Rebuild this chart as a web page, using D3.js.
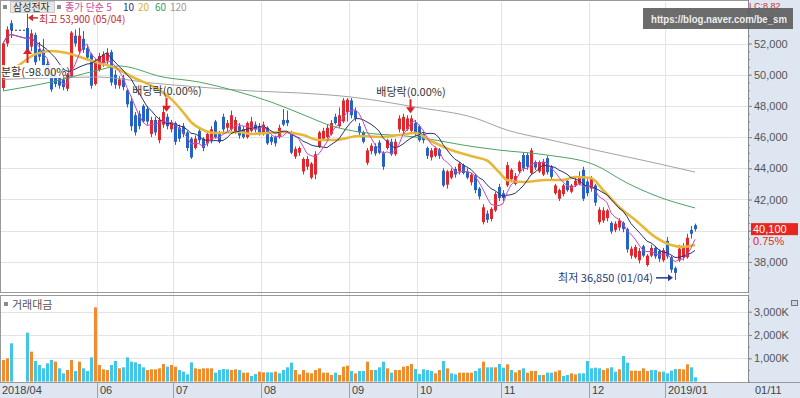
<!DOCTYPE html>
<html>
<head>
<meta charset="utf-8">
<script src="https://cdn.jsdelivr.net/npm/d3@7"></script>
<style>
html, body { margin: 0; padding: 0; background: #fff; }
svg { display: block; font-family: "Noto Sans CJK KR", "Liberation Sans", sans-serif; }
.axis text { font-family: "Liberation Sans", Arial, sans-serif; font-size: 11px; fill: #555; }
</style>
</head>
<body>
<div id="chart"></div>
<script>
// daily candles, 2018/04/25 .. 2019/01/11, [open, high, low, close]; null = trading halted for the split
var ohlc = [
  [49150,52100,49000,52000],[52000,53100,51800,52900],[53300,53500,52350,52850],null,null,null,
  // May
  [53000,53900,51300,51500],[51800,52900,51500,52650],[52550,52700,50600,50800],[51650,52100,50900,51150],
  [51600,52300,50400,50600],[50700,51000,49900,50100],[50150,50300,48900,49050],[49900,50200,49200,49400],
  [49800,50000,49100,49300],[49700,49900,49000,49200],[49100,50100,48950,50000],[49900,52800,49800,52700],
  [52500,52900,51800,52000],[51500,53000,51300,52500],[52300,52800,51400,51600],[51700,51900,50900,51100],
  [51300,51400,49100,49300],[49400,51000,49300,50900],
  // June
  [50300,51400,50200,51200],[50700,51500,50500,51300],[50900,51700,50600,51400],[51450,51600,49300,49500],
  [50000,50300,49100,49350],[49300,49900,49100,49700],[49800,50000,49000,49200],[49000,49100,47900,48100],
  [48300,48600,46400,46700],[47400,47600,46100,46300],[47500,47700,46500,46700],[48000,48100,46900,47000],
  [47800,48000,46800,47000],[46200,47300,46000,47100],[47100,47300,46100,46300],[45800,47300,45600,47100],
  [46800,48000,46600,47600],[47300,47500,46500,46700],[46500,47100,46300,46950],
  // July
  [46900,47000,45500,45700],[46600,46800,45700,45900],[46700,46900,46000,46200],[46300,46400,45100,45300],
  [45900,46000,44600,44700],[45300,46100,45200,45900],[46400,46600,45600,45800],[45900,46000,45100,45300],
  [45600,46400,45400,46200],[45800,46700,45600,46500],[47000,47100,45900,46000],[46200,46400,45600,45700],
  [47300,47500,46300,46500],[46600,47100,46400,46900],[46500,47700,46400,47400],[46300,47300,46200,47100],
  [46700,46900,45900,46100],[46500,46700,45900,46000],[46000,47000,45900,46900],[46400,47300,46300,47000],
  [46800,47000,46300,46500],[46700,46900,46100,46300],
  // August
  [46200,47000,46100,46800],[46600,46700,45500,45600],[46000,46100,45500,45700],[46000,46100,45400,45600],
  [46000,46800,45900,46600],[47100,47800,46700,46800],[47100,47700,46700,46900],[46300,46400,44900,45000],
  [44750,45400,44600,45250],[45000,45400,44800,45300],[43800,44700,43600,44600],[44100,44800,43900,44600],
  [43400,44400,43300,44300],[43600,45100,43300,44900],[45400,46400,45300,46300],[45900,46600,45800,46400],
  [46000,46800,45900,46600],[46200,47100,46100,46900],[47300,47500,46800,46900],[46700,47900,46600,47400],
  [47000,48500,46900,48350],[47600,48500,47000,48400],
  // September
  [48350,48500,47200,47400],[47700,47900,47000,47200],[46700,46900,46100,46300],[46300,46400,45600,45700],
  [44350,45300,44200,45150],[45100,45600,44900,45450],[45400,45600,44800,44950],[45650,45800,44900,45000],
  [45000,45100,43900,44100],[45300,45900,45200,45800],[45700,45900,44800,44900],[44900,45900,44800,45700],
  [46500,47400,46300,47200],[46400,47500,46200,47300],[46500,47400,46400,47200],[46400,47400,46300,47200],
  [46900,47100,46100,46300],
  // October
  [46700,46800,45700,45800],[46200,46300,45600,45800],[45300,45400,44600,44800],[44700,45300,44500,45150],
  [44800,45400,44700,45300],[45200,45300,44600,44800],[43850,44000,42800,42900],[42950,43900,42700,43800],
  [43400,44000,43300,43850],[43950,44100,43400,43600],[43800,44400,43600,44300],[44200,44300,43600,43700],
  [43800,44000,43300,43400],[43100,43700,42900,43600],[43500,43600,42400,42600],[42700,42800,42000,42200],
  [40550,41700,40400,41500],[41100,41300,40500,40700],[40750,41500,40600,41400],[41300,42500,41200,42350],
  [42800,43000,41900,42100],
  // November
  [42400,42600,41900,42100],[42900,44400,42800,44200],[43300,44000,43100,43900],[43000,43700,42900,43500],
  [43800,44500,43700,44400],[44850,45000,43800,44000],[44850,45000,43900,44100],[43700,45300,43600,45150],
  [44400,44500,43900,44050],[43800,44500,43700,44400],[43600,44600,43500,44400],[44650,44800,43600,43750],
  [44100,44200,43300,43450],[42400,43000,42300,42900],[42050,42700,41900,42600],[42350,43000,42200,42900],
  [43200,43300,42500,42600],[42500,43000,42400,42900],[42900,43400,42800,43200],[43000,43800,42900,43500],
  [43900,44100,41900,42050],[43150,43300,42200,42400],
  // December
  [42700,43500,42500,43300],[42900,43000,41600,41800],[40550,41500,40400,41350],[40650,41500,40500,41300],
  [40800,41400,40600,41300],[40500,40600,39800,39950],[40050,40600,39900,40450],[40200,40800,40000,40650],
  [40500,40600,39900,40100],[40100,40200,38600,38800],[38400,39000,38200,38850],[38300,39100,38200,38950],
  [38100,38900,37900,38700],[39000,39100,38300,38400],[37800,38500,37700,38400],[38400,39100,38300,38900],
  [38900,39000,38200,38350],[38700,38800,38000,38200],[38100,38900,38000,38750],
  // January 2019
  [39350,39600,38200,38350],[38300,38400,37300,37500],[37600,37700,36850,37300],[38100,39100,38000,38850],
  [38300,39200,38100,38950],[38300,39800,38200,39550],[40050,40300,39500,39800],[40350,40450,39950,40100]
];

// trading value (K)
var volumes = [
  927,1000,1642,null,null,null,2100,1285,884,712,570,784,927,856,570,355,498,927,455,856,570,455,1040,3186,
  712,527,498,712,884,570,613,1042,856,827,756,613,498,527,527,570,756,641,712,
  641,498,427,312,827,570,541,570,570,570,384,498,541,527,498,527,498,384,384,241,327,427,
  398,398,398,427,355,498,613,813,498,312,498,384,355,498,570,384,384,284,384,284,641,684,
  455,355,455,455,856,498,498,613,856,570,384,498,498,641,669,755,541,
  327,527,498,455,355,498,884,570,355,312,384,384,384,384,455,570,856,613,613,613,755,
  598,741,498,398,498,570,384,455,455,284,284,384,384,427,484,241,284,355,312,355,355,884,
  570,598,570,498,570,613,427,527,1098,813,470,470,455,570,455,498,498,427,427,
  355,470,541,541,527,741,613,183
];

// 1 = orange bar, 0 = cyan bar
var volumeUp = [
  1,1,0,null,null,null,0,1,0,0,0,0,0,1,0,0,1,1,0,1,0,0,0,1,
  1,1,1,0,0,1,0,0,0,0,0,0,1,1,1,1,1,0,1,
  1,0,0,0,0,1,1,1,1,1,0,0,0,0,1,1,0,1,1,0,0,1,
  1,0,0,1,0,0,0,0,1,1,1,1,1,1,1,1,1,1,0,1,1,1,
  0,1,0,0,1,1,0,0,0,1,0,1,1,1,1,1,0,
  0,0,0,0,1,1,0,1,0,0,1,1,1,1,0,0,1,0,0,1,0,
  0,1,0,1,1,0,1,1,1,0,1,0,0,1,1,0,0,1,1,0,0,0,
  0,0,0,1,1,0,0,1,0,0,1,1,1,1,1,0,0,1,0,
  0,0,0,1,1,1,0,0
];

// moving averages, [day index, value]
var ma20Points = [[0,49980],[4,50620],[8,51300],[12,51520],[16,51390],[20,51070],[24,50750],[28,50450],
  [32,49900],[39,49020],[42,48450],[45,47610],[47,46970],[50,46460],[53,46260],[59,46330],[62,46200],
  [66,46260],[70,46330],[75,46130],[79,45810],[83,45810],[89,46070],[95,46010],[99,46130],[103,46260],
  [107,45750],[112,45170],[118,44720],[121,44500],[124,43760],[126,43250],[130,43120],[136,43250],
  [140,43250],[143,43440],[147,43380],[150,42610],[154,41520],[158,40700],[163,39600],[167,39080],
  [170,38960],[173,39080]];
var ma60Points = [[0,48960],[12,49530],[24,50300],[29,50560],[40,49850],[49,49530],[59,48890],[67,48250],
  [74,47545],[83,46650],[89,46330],[103,46010],[118,45370],[124,45170],[136,44850],[148,44210],
  [156,43060],[164,42160],[173,41460]];
var ma120Points = [[0,49700],[12,49800],[24,49850],[37,49470],[49,49210],[62,48960],[74,48830],[87,48570],
  [103,47930],[118,47220],[126,46450],[137,45810],[148,45170],[162,44400],[173,43760]];

var monthTicks = [[0,"2018/04"],[24,"06"],[43,"07"],[65,"08"],[87,"09"],[104,"10"],[125,"11"],[147,"12"],[166,"2019/01"]];
var priceTicks = [38000,40000,42000,44000,46000,48000,50000,52000];
var volumeTicks = [1000,2000,3000];

var W = 800, H = 398;
var upColor = "#e2262c", downColor = "#2462c8";

var svg = d3.select("#chart").append("svg").attr("width", W).attr("height", H);

var x = d3.scaleLinear().domain([0, 173]).range([3, 695]);
var y = d3.scaleLinear().domain([38000, 52000]).range([261.9, 43.5]);
var yv = d3.scaleLinear().domain([0, 3000]).range([381.6, 311.7]);

// backgrounds
svg.append("rect").attr("x", 748).attr("y", 0).attr("width", 52).attr("height", H).attr("fill", "#dde6f1");
svg.append("rect").attr("x", 0).attr("y", 382).attr("width", W).attr("height", 16).attr("fill", "#dde6f1");

svg.append("clipPath").attr("id", "pclip").append("rect")
  .attr("x", 1).attr("y", 2).attr("width", 747).attr("height", 290);
svg.append("clipPath").attr("id", "vclip").append("rect")
  .attr("x", 1).attr("y", 296).attr("width", 747).attr("height", 86);

// grid
var grid = svg.append("g").attr("stroke", "#e3e3e3").attr("shape-rendering", "crispEdges");
grid.selectAll(".hp").data(priceTicks).enter().append("line")
  .attr("x1", 1).attr("x2", 748).attr("y1", function(d) { return Math.round(y(d)) + 0.5; })
  .attr("y2", function(d) { return Math.round(y(d)) + 0.5; });
grid.selectAll(".hv").data(volumeTicks).enter().append("line")
  .attr("x1", 1).attr("x2", 748).attr("y1", function(d) { return Math.round(yv(d)) + 0.5; })
  .attr("y2", function(d) { return Math.round(yv(d)) + 0.5; });
grid.selectAll(".vm").data(monthTicks.slice(1)).enter().append("line")
  .attr("x1", function(d) { return x(d[0]) - 1.5; }).attr("x2", function(d) { return x(d[0]) - 1.5; })
  .attr("y1", 2).attr("y2", 382);

// panel frames
var frame = svg.append("g").attr("fill", "none").attr("stroke", "#999").attr("shape-rendering", "crispEdges");
frame.append("rect").attr("x", 0.5).attr("y", 0.5).attr("width", 747.5).attr("height", 292);
frame.append("rect").attr("x", 0.5).attr("y", 295.5).attr("width", 747.5).attr("height", 86.5);
frame.append("line").attr("x1", 0).attr("x2", W).attr("y1", 382.5).attr("y2", 382.5);

// candles
var price = svg.append("g").attr("clip-path", "url(#pclip)");
var days = ohlc.map(function(d, i) { return d ? { i: i, o: d[0], h: d[1], l: d[2], c: d[3] } : null; })
  .filter(function(d) { return d; });

var cg = price.selectAll(".candle").data(days).enter().append("g").attr("class", "candle");
cg.append("line")
  .attr("x1", function(d) { return x(d.i) + 0.5; }).attr("x2", function(d) { return x(d.i) + 0.5; })
  .attr("y1", function(d) { return y(d.h); }).attr("y2", function(d) { return y(d.l); })
  .attr("stroke", function(d) { return d.c >= d.o ? upColor : downColor; });
cg.append("rect")
  .attr("x", function(d) { return x(d.i) - 1; }).attr("width", 3)
  .attr("y", function(d) { return y(Math.max(d.o, d.c)); })
  .attr("height", function(d) { return Math.max(1, Math.abs(y(d.o) - y(d.c))); })
  .attr("fill", function(d) { return d.c >= d.o ? upColor : downColor; });

// moving averages
function sma(n) {
  var buf = [], out = [];
  days.forEach(function(d) {
    buf.push(d.c);
    if (buf.length > n) buf.shift();
    out.push([d.i, d3.mean(buf)]);
  });
  return out;
}
var lineLin = d3.line().x(function(d) { return x(d[0]); }).y(function(d) { return y(d[1]); });
var lineCurve = d3.line().x(function(d) { return x(d[0]); }).y(function(d) { return y(d[1]); }).curve(d3.curveMonotoneX);

price.append("path").attr("d", lineCurve(ma120Points)).attr("fill", "none").attr("stroke", "#a3a3a3").attr("stroke-width", 1);
price.append("path").attr("d", lineCurve(ma60Points)).attr("fill", "none").attr("stroke", "#4ea464").attr("stroke-width", 1);
price.append("path").attr("d", lineCurve(ma20Points)).attr("fill", "none").attr("stroke", "#e6b83a").attr("stroke-width", 2.6);
price.append("path").attr("d", lineLin(sma(10))).attr("fill", "none").attr("stroke", "#2c3270").attr("stroke-width", 1);
price.append("path").attr("d", lineLin(sma(5))).attr("fill", "none").attr("stroke", "#c24cc0").attr("stroke-width", 1);

// volume bars
var vol = svg.append("g").attr("clip-path", "url(#vclip)");
vol.selectAll("rect").data(volumes.map(function(v, i) { return v === null ? null : { i: i, v: v, up: volumeUp[i] }; })
    .filter(function(d) { return d; }))
  .enter().append("rect")
  .attr("x", function(d) { return x(d.i) - 1; }).attr("width", 3)
  .attr("y", function(d) { return yv(d.v); })
  .attr("height", function(d) { return yv(0) - yv(d.v); })
  .attr("fill", function(d) { return d.up ? "#f08b2e" : "#3fc6e9"; });

// right axes; the 40,000 label sits under the current-price tag, so it is left blank
var last = days[days.length - 1];
var pAxis = svg.append("g").attr("class", "axis").attr("transform", "translate(748,0)")
  .call(d3.axisRight(y).tickValues(priceTicks).tickSize(4).tickPadding(2)
    .tickFormat(function(d) { return Math.abs(d - last.c) < 500 ? "" : d3.format(",")(d); }));
svg.append("g").attr("class", "axis").attr("transform", "translate(748,0)")
  .call(d3.axisRight(y).tickValues(d3.range(37000, 54001, 500)).tickSize(2).tickFormat(""))
  .select(".domain").remove();
var vAxis = svg.append("g").attr("class", "axis").attr("transform", "translate(748,0)")
  .call(d3.axisRight(yv).tickValues(volumeTicks).tickSize(4).tickPadding(2)
    .tickFormat(function(d) { return d3.format(",")(d) + "K"; }));
svg.append("g").attr("class", "axis").attr("transform", "translate(748,0)")
  .call(d3.axisRight(yv).tickValues(d3.range(0, 3701, 500)).tickSize(2).tickFormat(""))
  .select(".domain").remove();
svg.selectAll(".axis .domain").attr("stroke", "#8a8a8a");
svg.selectAll(".axis .tick line").attr("stroke", "#8a8a8a");
pAxis.select(".domain").attr("d", "M0.5,0V293");
vAxis.select(".domain").attr("d", "M0.5,295V382");

// date axis
var dates = svg.append("g").attr("class", "axis");
dates.selectAll("line").data(monthTicks.slice(1)).enter().append("line")
  .attr("x1", function(d) { return x(d[0]) - 1.5; }).attr("x2", function(d) { return x(d[0]) - 1.5; })
  .attr("y1", 382).attr("y2", 398).attr("stroke", "#9aa3ad");
dates.selectAll("text").data(monthTicks).enter().append("text")
  .attr("x", function(d, i) { return i === 0 ? 2 : x(d[0]) + 1; }).attr("y", 394)
  .style("fill", "#444").text(function(d) { return d[1]; });
dates.append("text").attr("x", 755).attr("y", 394).style("fill", "#444").text("01/11");

// current price tag
svg.append("rect").attr("x", 751).attr("y", y(last.c) - 6).attr("width", 47).attr("height", 12).attr("fill", "#e8261e");
svg.append("text").attr("x", 753).attr("y", y(last.c) + 4).attr("fill", "#fff")
  .style("font-family", "Liberation Sans, Arial").style("font-size", "11px").text(d3.format(",")(last.c));
svg.append("text").attr("x", 753).attr("y", y(last.c) + 16).attr("fill", "#e8261e")
  .style("font-family", "Liberation Sans, Arial").style("font-size", "11px").text("0.75%");

// top-right indicators and watermark
svg.append("text").attr("x", 749).attr("y", 9).attr("fill", "#d23030")
  .style("font-family", "Liberation Sans, Arial").style("font-size", "9px").text("LC:8.82");
svg.append("text").attr("x", 750).attr("y", 23).attr("fill", "#3a4a7a")
  .style("font-family", "Liberation Sans, Arial").style("font-size", "9px").text("HC:29.50");
svg.append("rect").attr("x", 643).attr("y", 8).attr("width", 150).attr("height", 21)
  .attr("fill", "#5c5c5c").attr("fill-opacity", 0.9);
svg.append("text").attr("x", 651).attr("y", 22.5).attr("fill", "#eeeeee")
  .attr("textLength", 136).attr("lengthAdjust", "spacingAndGlyphs")
  .style("font-family", "Liberation Sans, Arial").style("font-weight", "bold").style("font-size", "10px")
  .text("https://blog.naver.com/be_sm");

// header legend
var head = svg.append("g").style("font-size", "10px");
head.append("rect").attr("x", 3).attr("y", 5).attr("width", 4).attr("height", 4).attr("fill", "#8a8a8a");
head.append("rect").attr("x", 10.5).attr("y", 1.5).attr("width", 44).attr("height", 11)
  .attr("fill", "#e6e6e6").attr("stroke", "#c8c8c8");
head.append("text").attr("x", 13).attr("y", 10.8).attr("fill", "#333").text("삼성전자");
head.append("rect").attr("x", 57).attr("y", 5).attr("width", 4).attr("height", 4).attr("fill", "#8a8a8a");
var legendItems = [[65, "종가 단순 5", "#cc4a9c"], [123, "10", "#2c3270"], [138, "20", "#dcae2c"], [155, "60", "#3c9c5c"], [170, "120", "#9a9a9a"]];
head.selectAll(".lg").data(legendItems).enter().append("text")
  .attr("x", function(d) { return d[0]; }).attr("y", 10.8)
  .attr("fill", function(d) { return d[2]; }).text(function(d) { return d[1]; });

// volume panel title
svg.append("rect").attr("x", 4).attr("y", 302).attr("width", 4).attr("height", 4).attr("fill", "#8a8a8a");
svg.append("text").attr("x", 12).attr("y", 309).attr("fill", "#555").style("font-size", "11px").text("거래대금");
svg.append("rect").attr("x", 791.5).attr("y", 300.5).attr("width", 6).attr("height", 5)
  .attr("fill", "#cfd6de").attr("stroke", "#777");

// annotations
var ann = svg.append("g").style("font-size", "11px");
var hi = days.find(function(d) { return d.i === 6; });
var hy = y(hi.h) + 4;
ann.append("line").attr("x1", x(hi.i) + 11).attr("x2", x(hi.i) + 5).attr("y1", hy).attr("y2", hy)
  .attr("stroke", "#d02a2a").attr("stroke-width", 1.5);
ann.append("path").attr("d", "M" + (x(hi.i) + 1) + "," + hy + "l5,-3.5v7z").attr("fill", "#d02a2a");
ann.append("text").attr("x", x(hi.i) + 12).attr("y", hy + 5).attr("fill", "#c42b2b").style("font-size", "10px")
  .text("최고 53,900 (05/04)");

// split marker
var prev = days.find(function(d) { return d.i === 2; });
ann.append("line").attr("x1", x(prev.i)).attr("x2", x(hi.i)).attr("y1", y(prev.c)).attr("y2", y(prev.c))
  .attr("stroke", "#2c3270").attr("stroke-dasharray", "2,2");
ann.append("line").attr("x1", x(hi.i) + 0.5).attr("x2", x(hi.i) + 0.5).attr("y1", 63).attr("y2", 52)
  .attr("stroke", "#e02020").attr("stroke-width", 2);
ann.append("path").attr("d", "M" + (x(hi.i) - 4) + ",54l4.5,-6l4.5,6z").attr("fill", "#e02020");
ann.append("rect").attr("x", 1).attr("y", 65).attr("width", 62).attr("height", 13).attr("fill", "#fff").attr("fill-opacity", 0.85);
ann.append("text").attr("x", 1).attr("y", 76).attr("fill", "#333").text("분할(-98.00%)");

// dividend markers
[41, 102].forEach(function(k) {
  var d = days.find(function(e) { return e.i === k; });
  var tip = y(d.h) - 2;
  ann.append("line").attr("x1", x(k) - 0.5).attr("x2", x(k) - 0.5).attr("y1", tip - 14).attr("y2", tip - 4)
    .attr("stroke", "#e02020").attr("stroke-width", 2);
  ann.append("path").attr("d", "M" + (x(k) - 5) + "," + (tip - 6) + "l4.5,6l4.5,-6z").attr("fill", "#e02020");
  ann.append("text").attr("x", x(k)).attr("y", tip - 17).attr("text-anchor", "middle").attr("fill", "#333").text("배당락(0.00%)");
});

// lowest marker
var lo = days.find(function(d) { return d.i === 168; });
ann.append("line").attr("x1", x(lo.i) - 19).attr("x2", x(lo.i) - 6).attr("y1", y(lo.l) - 2).attr("y2", y(lo.l) - 2)
  .attr("stroke", "#2a3a8a").attr("stroke-width", 1.5);
ann.append("path").attr("d", "M" + (x(lo.i) - 2) + "," + (y(lo.l) - 2) + "l-5,-3.5v7z").attr("fill", "#2a3a8a");
ann.append("text").attr("x", x(lo.i) - 22).attr("y", y(lo.l) + 2).attr("text-anchor", "end").attr("fill", "#2a3a7a")
  .text("최저 36,850 (01/04)");
</script>
</body>
</html>
